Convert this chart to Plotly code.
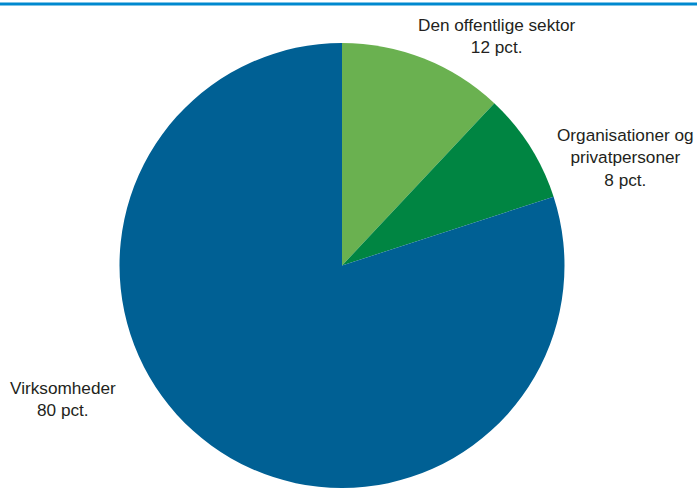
import plotly.graph_objects as go

labels = ["Den offentlige sektor", "Organisationer og privatpersoner", "Virksomheder"]
values = [12, 8, 80]
colors = ["#6ab150", "#008542", "#006094"]
label_texts = ["Den offentlige sektor<br>12 pct.", "Organisationer og<br>privatpersoner<br>8 pct.", "Virksomheder<br>80 pct."]

W, H = 697, 488
ml, mr, mt, mb = 0, 13, 43, 0
pw, ph = W - ml - mr, H - mt - mb

def px(x):
    return (x - ml) / pw

def py(y):
    return (H - mb - y) / ph

FONT = "Liberation Sans Narrow, Arial Narrow, Liberation Sans, Arial, sans-serif"

fig = go.Figure(go.Pie(
    labels=labels, values=values, sort=False, direction="clockwise", rotation=0,
    marker=dict(colors=colors, line=dict(width=0)),
    textinfo="none", hoverinfo="label+percent", showlegend=False,
))

label_pos = [(497, 36), (625, 157), (63, 399)]
for t, (x, y) in zip(label_texts, label_pos):
    fig.add_annotation(x=px(x), y=py(y), xref="paper", yref="paper", text=t,
                       showarrow=False, align="center", xanchor="center", yanchor="middle",
                       font=dict(family=FONT, size=17.2, color="#231f20"))

fig.add_shape(type="line", xref="paper", yref="paper", x0=px(0), x1=px(W), y0=py(4), y1=py(4),
              line=dict(color="#0089cf", width=3))

fig.update_layout(width=W, height=H, margin=dict(l=ml, r=mr, t=mt, b=mb),
                  paper_bgcolor="white", plot_bgcolor="white",
                  font=dict(family=FONT))
fig.write_html("out.html", config={"displayModeBar": False},
               post_script="document.body.style.margin='0px';document.body.style.overflow='hidden';")
